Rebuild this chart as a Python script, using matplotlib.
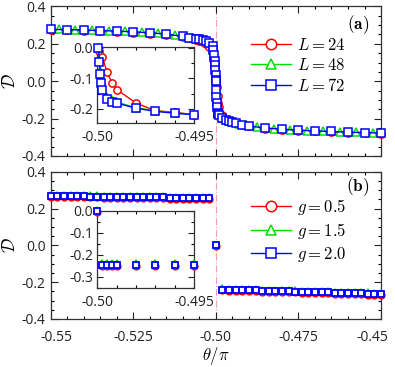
import matplotlib
matplotlib.use('Agg')
import matplotlib.pyplot as plt
from matplotlib.ticker import MultipleLocator
from matplotlib.transforms import ScaledTranslation

plt.rcParams['font.family'] = ['Open Sans', 'DejaVu Sans']
plt.rcParams['mathtext.fontset'] = 'cm'
plt.rcParams['axes.unicode_minus'] = False
plt.rcParams['xtick.direction'] = 'in'
plt.rcParams['ytick.direction'] = 'in'
plt.rcParams['xtick.top'] = True
plt.rcParams['ytick.right'] = True

# ---- panel (a): system size ----
L_labels = [r'$L=24$', r'$L=48$', r'$L=72$']

xa_24 = [-0.55, -0.545, -0.54, -0.535, -0.53, -0.525, -0.52, -0.515, -0.51, -0.508, -0.506,
         -0.505, -0.504, -0.503, -0.502, -0.501, -0.50075, -0.5005, -0.50025, -0.5001,
         -0.49995, -0.4999, -0.49975, -0.4995, -0.49925, -0.499, -0.498, -0.497, -0.496,
         -0.495, -0.494, -0.492, -0.49, -0.485, -0.48, -0.475, -0.47, -0.465, -0.46, -0.455, -0.45]
ya_24 = [0.273, 0.272, 0.270, 0.267, 0.264, 0.260, 0.255, 0.248, 0.236, 0.229, 0.222,
         0.216, 0.210, 0.200, 0.181, 0.137, 0.114, 0.081, 0.030, 0.012,
         0.0, -0.012, -0.030, -0.081, -0.114, -0.137, -0.181, -0.206, -0.211,
         -0.219, -0.225, -0.233, -0.242, -0.253, -0.260, -0.265, -0.269, -0.272, -0.276, -0.278, -0.280]

xa_48 = [-0.5475, -0.5425, -0.5375, -0.5325, -0.5275, -0.5225, -0.5175, -0.5125, -0.509, -0.507,
         -0.505, -0.503, -0.502, -0.501, -0.50075, -0.5005, -0.50025, -0.5001, -0.50005,
         -0.49995, -0.4999, -0.49985, -0.4998, -0.49975, -0.4995, -0.49925, -0.499, -0.498,
         -0.497, -0.496, -0.495, -0.493, -0.491, -0.4875, -0.4825, -0.4775, -0.4725, -0.4675,
         -0.4625, -0.4575, -0.4525]
ya_48 = [0.278, 0.276, 0.274, 0.271, 0.267, 0.263, 0.257, 0.248, 0.237, 0.232,
         0.226, 0.215, 0.207, 0.190, 0.175, 0.155, 0.120, 0.050, 0.010,
         0.0, -0.040, -0.075, -0.105, -0.130, -0.160, -0.172, -0.178, -0.196,
         -0.206, -0.213, -0.218, -0.228, -0.236, -0.247, -0.255, -0.260, -0.264, -0.268,
         -0.271, -0.274, -0.276]

xa_72 = [-0.55, -0.545, -0.54, -0.535, -0.53, -0.525, -0.52, -0.515, -0.51, -0.508, -0.506,
         -0.505, -0.504, -0.503, -0.502, -0.501, -0.50075, -0.5005, -0.50025, -0.5002,
         -0.50015, -0.5001, -0.50005, -0.49995, -0.4999, -0.49985, -0.4998, -0.49975, -0.4995,
         -0.49925, -0.499, -0.498, -0.497, -0.496, -0.495, -0.494, -0.492, -0.49, -0.485,
         -0.48, -0.475, -0.47, -0.465, -0.46, -0.455, -0.45]
ya_72 = [0.277, 0.276, 0.274, 0.271, 0.268, 0.264, 0.259, 0.252, 0.240, 0.233, 0.228,
         0.224, 0.219, 0.213, 0.205, 0.186, 0.165, 0.140, 0.110, 0.085,
         0.060, 0.035, 0.005, 0.0, -0.048, -0.087, -0.117, -0.137, -0.168,
         -0.177, -0.181, -0.198, -0.208, -0.214, -0.219, -0.224, -0.232, -0.240, -0.250,
         -0.257, -0.262, -0.266, -0.269, -0.273, -0.275, -0.277]

# ---- panel (b): coupling g ----
g_labels = [r'$g=0.5$', r'$g=1.5$', r'$g=2.0$']

xb = [-0.55, -0.548, -0.546, -0.544, -0.542, -0.54, -0.538, -0.536, -0.534, -0.532, -0.53,
      -0.528, -0.526, -0.524, -0.522, -0.52, -0.518, -0.516, -0.514, -0.512, -0.51, -0.508,
      -0.506, -0.504, -0.502, -0.5, -0.498, -0.496, -0.494, -0.492, -0.49, -0.488, -0.486,
      -0.484, -0.482, -0.48, -0.478, -0.476, -0.474, -0.472, -0.47, -0.468, -0.466, -0.464,
      -0.462, -0.46, -0.458, -0.456, -0.454, -0.452, -0.45]
yb_20 = [0.268, 0.268, 0.267, 0.267, 0.266, 0.266, 0.265, 0.265, 0.264, 0.264, 0.263,
         0.263, 0.262, 0.262, 0.261, 0.261, 0.260, 0.260, 0.259, 0.259, 0.258, 0.258,
         0.257, 0.257, 0.256, 0.0, -0.240, -0.241, -0.242, -0.243, -0.244, -0.245, -0.246,
         -0.247, -0.248, -0.249, -0.250, -0.251, -0.252, -0.253, -0.254, -0.255, -0.256, -0.257,
         -0.258, -0.259, -0.260, -0.261, -0.262, -0.263, -0.264]
yb_15 = [0.274, 0.274, 0.273, 0.273, 0.272, 0.272, 0.271, 0.271, 0.270, 0.270, 0.269,
         0.269, 0.268, 0.268, 0.267, 0.267, 0.266, 0.266, 0.265, 0.265, 0.264, 0.264,
         0.263, 0.263, 0.262, 0.002, -0.234, -0.235, -0.236, -0.237, -0.238, -0.239, -0.240,
         -0.241, -0.242, -0.243, -0.244, -0.245, -0.246, -0.247, -0.248, -0.249, -0.250, -0.251,
         -0.252, -0.253, -0.254, -0.255, -0.256, -0.257, -0.258]
yb_05 = [0.263, 0.263, 0.262, 0.262, 0.261, 0.261, 0.260, 0.260, 0.259, 0.259, 0.258,
         0.258, 0.257, 0.257, 0.256, 0.256, 0.255, 0.255, 0.254, 0.254, 0.253, 0.253,
         0.252, 0.252, 0.251, -0.002, -0.245, -0.246, -0.247, -0.248, -0.249, -0.250, -0.251,
         -0.252, -0.253, -0.254, -0.255, -0.256, -0.257, -0.258, -0.259, -0.260, -0.261, -0.262,
         -0.263, -0.264, -0.265, -0.266, -0.267, -0.268, -0.269]

xb_in = [-0.5, -0.49975, -0.4995, -0.49925, -0.499, -0.498, -0.497, -0.496, -0.495]
yb_in_20 = [0.0, -0.245, -0.245, -0.245, -0.245, -0.245, -0.245, -0.245, -0.245]
yb_in_15 = [0.004, -0.238, -0.238, -0.238, -0.238, -0.238, -0.238, -0.238, -0.238]
yb_in_05 = [-0.003, -0.251, -0.251, -0.251, -0.251, -0.251, -0.251, -0.251, -0.251]

colors = ['#ff0000', '#00e000', '#0000ff']
markers = ['o', '^', 's']

fig = plt.figure(figsize=(3.95, 3.67), dpi=100)
ax_a = fig.add_axes([0.1284, 0.575, 0.8362, 0.4074])
ax_b = fig.add_axes([0.1284, 0.1308, 0.8362, 0.4014])
ins_a = fig.add_axes([0.2468, 0.6657, 0.2443, 0.2071])
ins_b = fig.add_axes([0.2468, 0.2161, 0.2443, 0.209])

# main panel (a)
for xs, ys, c, m, lab in zip([xa_24, xa_48, xa_72], [ya_24, ya_48, ya_72], colors, markers, L_labels):
    ax_a.plot(xs, ys, '-', color=c, marker=m, mfc='white', mec=c, ms=5.2, mew=1.1, lw=1.0,
              label=lab, clip_on=False, zorder=3)

# main panel (b)
for ys, c, m, lab in zip([yb_05, yb_15, yb_20], colors, markers, g_labels):
    ax_b.plot(xb, ys, ls='none', color=c, marker=m, mfc='white', mec=c, ms=4.6, mew=1.3,
              label=lab, clip_on=False, zorder=3)

for ax in (ax_a, ax_b):
    ax.axvline(-0.5, color='#f0a0b8', lw=0.8, ls='-.', zorder=1)
    ax.set_xlim(-0.55, -0.45)
    ax.set_ylim(-0.4, 0.4)
    ax.set_xticks([-0.55, -0.525, -0.5, -0.475, -0.45])
    ax.xaxis.set_minor_locator(MultipleLocator(0.005))
    ax.set_yticks([-0.4, -0.2, 0.0, 0.2, 0.4])
    ax.set_yticklabels(['-0.4', '-0.2', '0.0', '0.2', '0.4'])
    ax.yaxis.set_minor_locator(MultipleLocator(0.05))
    ax.tick_params(which='major', length=5, width=0.8, labelsize=10, colors='#222222')
    ax.tick_params(axis='x', which='major', pad=8)
    ax.tick_params(which='minor', length=2.5, width=0.8)
    ax.set_ylabel(r'$\mathcal{D}$', fontsize=13, labelpad=2)
    for s in ax.spines.values():
        s.set_linewidth(0.9)
        s.set_color('#333333')

ax_a.tick_params(labelbottom=False)
ax_b.set_xticklabels(['-0.55', '-0.525', '-0.50', '-0.475', '-0.45'])
ax_b.set_xlabel(r'$\theta/\pi$', fontsize=12, labelpad=0)
# the end labels sit a little inside the frame, as in the source figure
xlabels = ax_b.get_xticklabels()
xlabels[0].set_transform(xlabels[0].get_transform() + ScaledTranslation(4 / 72, 0, fig.dpi_scale_trans))
xlabels[-1].set_transform(xlabels[-1].get_transform() + ScaledTranslation(-6 / 72, 0, fig.dpi_scale_trans))

leg_kw = dict(loc='center left', frameon=False, fontsize=12, handlelength=2.4,
              handletextpad=0.4, labelspacing=0.25, borderaxespad=0)
for ax in (ax_a, ax_b):
    leg = ax.legend(bbox_to_anchor=(0.585, 0.6), **leg_kw)
    for lh in leg.get_lines():
        lh.set_linestyle('-')
        lh.set_linewidth(1.0)
        lh.set_markeredgewidth(1.1)
        lh.set_markersize(7.5)

ax_a.text(0.966, 0.88, r'$\mathbf{(a)}$', transform=ax_a.transAxes, ha='right', va='center', fontsize=12.5)
ax_b.text(0.966, 0.9, r'$\mathbf{(b)}$', transform=ax_b.transAxes, ha='right', va='center', fontsize=12.5)

# inset (a): only the points right of the transition
for xs, ys, c, m in zip([xa_24, xa_48, xa_72], [ya_24, ya_48, ya_72], colors, markers):
    pts = [(x, y) for x, y in zip(xs, ys) if -0.5 <= x <= -0.4948]
    ins_a.plot([p[0] for p in pts], [p[1] for p in pts], '-', color=c, marker=m, mfc='white',
               mec=c, ms=5.2, mew=1.1, lw=1.0, clip_on=False, zorder=3)
ins_a.set_xlim(-0.5, -0.495)
ins_a.set_ylim(-0.245, 0.003)
ins_a.set_yticks([-0.2, -0.1, 0.0])
ins_a.set_yticklabels(['-0.2', '-0.1', '0.0'])

# inset (b)
for ys, c, m in zip([yb_in_05, yb_in_15, yb_in_20], colors, markers):
    ins_b.plot(xb_in, ys, ls='none', color=c, marker=m, mfc='white', mec=c, ms=4.6, mew=1.3,
               clip_on=False, zorder=3)
ins_b.set_xlim(-0.5, -0.495)
ins_b.set_ylim(-0.35, 0.0)
ins_b.set_yticks([-0.3, -0.2, -0.1, 0.0])
ins_b.set_yticklabels(['-0.3', '-0.2', '-0.1', '0.0'])

for ins in (ins_a, ins_b):
    ins.set_xticks([-0.5, -0.495])
    ins.set_xticklabels(['-0.50', '-0.495'])
    ins.xaxis.set_minor_locator(MultipleLocator(0.001))
    ins.yaxis.set_minor_locator(MultipleLocator(0.05))
    ins.tick_params(which='major', length=4, width=0.8, labelsize=10, colors='#222222', pad=3)
    ins.tick_params(axis='x', which='major', pad=5)
    ins.tick_params(which='minor', length=2.5, width=0.8)
    for s in ins.spines.values():
        s.set_linewidth(0.9)
        s.set_color('#333333')

fig.savefig('out.png', dpi=100)
